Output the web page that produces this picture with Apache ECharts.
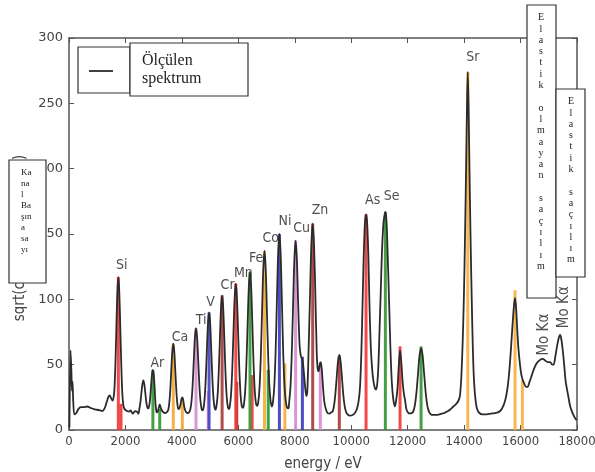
<!DOCTYPE html>
<html lang="tr">
<head>
    <meta charset="UTF-8">
    <title>Spektrum</title>
    <script src="https://cdn.jsdelivr.net/npm/echarts@6/dist/echarts.min.js"></script>
    <style>
        body { margin: 0; background: #fff; }
        #chart { width: 595px; height: 472px; }
    </style>
</head>
<body>
<div id="chart"></div>
<script type="text/javascript">
    // measured spectrum, [energy eV, sqrt(counts)]
    var spectrum = [
        [15, 2], [55, 61], [85, 45], [105, 30], [125, 37], [150, 22], [190, 12], [260, 13], [330, 16], [420, 17.5],
        [520, 17.5], [640, 18], [760, 17], [880, 16], [1000, 15.5], [1100, 15], [1190, 14.5], [1260, 16.5], [1330, 21],
        [1400, 25.5], [1440, 26.5], [1490, 24.5], [1538, 22.5], [1573, 24], [1608, 30.5], [1643, 49.5], [1678, 77.7],
        [1713, 105], [1748, 117], [1783, 105], [1818, 77.7], [1853, 49.5], [1888, 28.5], [1923, 19.4], [1958, 16.4],
        [1993, 15.5], [2060, 14.5], [2120, 14], [2180, 15], [2260, 12.5], [2340, 14.5], [2410, 14], [2460, 12.5],
        [2495, 16.4], [2530, 21.1], [2565, 28.2], [2600, 35], [2635, 38], [2670, 35], [2705, 28.2], [2740, 21.1],
        [2775, 17.5], [2810, 16.5], [2842, 18.5], [2875, 24.4], [2907, 33.4], [2940, 42.2], [2972, 46], [3005, 42],
        [3037, 31], [3065, 20], [3100, 14], [3130, 13.5], [3170, 16], [3215, 19.5], [3260, 16.5], [3320, 14],
        [3400, 13], [3460, 13.5], [3515, 15.3], [3551, 20.2], [3587, 30.2], [3623, 45.1], [3659, 59.8], [3695, 66],
        [3731, 59.8], [3767, 45.1], [3803, 30.2], [3839, 20.2], [3875, 16], [3910, 16.5], [3950, 19.5], [3985, 23.5],
        [4015, 25], [4050, 22.5], [4090, 17], [4140, 14], [4200, 13],
        [4260, 13.7], [4300, 15.9], [4340, 21.8], [4380, 34.1], [4420, 52.4], [4460, 70.4], [4500, 78], [4540, 70.4],
        [4580, 52.4], [4620, 34.1], [4660, 21.8], [4700, 16], [4730, 15],
        [4763, 16.4], [4803, 23.4], [4843, 38], [4883, 59.7], [4923, 81], [4963, 90], [5003, 81], [5043, 59.7],
        [5083, 38], [5123, 23.4], [5163, 16.5], [5195, 15.5],
        [5220, 17.5], [5261, 25.2], [5302, 42.2], [5343, 67.6], [5384, 92.4], [5425, 103], [5466, 92.4], [5507, 67.6],
        [5548, 42.2], [5589, 25.2], [5630, 17.5], [5668, 16],
        [5700, 18.5], [5742, 27.3], [5784, 45.8], [5826, 73.4], [5868, 100.5], [5910, 112], [5952, 100.5], [5994, 73.4],
        [6036, 45.8], [6078, 27.3], [6120, 18.5], [6160, 17],
        [6198, 19.7], [6241, 29.3], [6284, 49.4], [6327, 79.3], [6370, 108.5], [6413, 121], [6456, 108.5], [6499, 79.3],
        [6542, 49.4], [6585, 29.3], [6628, 20], [6665, 18.5],
        [6707, 21.3], [6751, 32.4], [6795, 55.3], [6839, 89.4], [6883, 122.8], [6927, 137], [6971, 122.8], [7015, 89.4],
        [7059, 55.3], [7103, 32.4], [7147, 21.5], [7190, 18],
        [7230, 21.9], [7275, 34.1], [7320, 59.5], [7365, 97.3], [7410, 134.3], [7455, 150], [7500, 134.3], [7545, 97.3],
        [7590, 59.5], [7635, 34.1], [7680, 22], [7730, 17], [7775, 16.5],
        [7800, 21], [7846, 32.6], [7892, 57.2], [7938, 93.8], [7984, 129.7], [8030, 145], [8076, 129.7], [8122, 95],
        [8168, 66], [8210, 57], [8250, 55], [8290, 51], [8330, 42], [8370, 32], [8410, 26],
        [8445, 30], [8492, 63.5], [8540, 103], [8587, 141.5], [8635, 158], [8682, 141.5], [8730, 103], [8777, 60],
        [8810, 47], [8845, 45], [8885, 50], [8918, 52], [8955, 47], [9000, 33], [9045, 22], [9100, 16], [9160, 13],
        [9230, 12.5],
        [9293, 13.5], [9340, 14], [9388, 18.2], [9435, 26.8], [9483, 39.6], [9530, 52.2], [9578, 57.5], [9625, 52.2],
        [9673, 39.6], [9720, 26.8], [9768, 18.2], [9815, 14], [9870, 12], [9950, 11], [10050, 11.5],
        [10130, 13], [10200, 16], [10260, 22], [10312, 33], [10360, 60], [10405, 99.5], [10445, 135], [10485, 158],
        [10525, 165], [10565, 158], [10605, 135], [10642, 100], [10690, 65], [10740, 47], [10790, 37], [10840, 32],
        [10880, 31],
        [10920, 35], [10960, 48], [11000, 74], [11045, 105], [11090, 137], [11140, 158], [11170, 163], [11210, 167],
        [11250, 160], [11295, 132], [11340, 99.5], [11390, 62], [11440, 36], [11493, 23], [11550, 18],
        [11600, 24], [11640, 32], [11685, 49], [11730, 61], [11775, 52], [11820, 37], [11865, 28], [11906, 23],
        [11960, 15.5], [12030, 13], [12083, 12.7],
        [12150, 13], [12200, 14.2], [12255, 18.8], [12310, 28.4], [12365, 42.6], [12420, 57], [12475, 62.5],
        [12530, 57], [12585, 42.6], [12640, 28.4], [12695, 18.8], [12750, 14.2], [12820, 12], [12900, 11.5],
        [13000, 11.5], [13100, 11.8], [13200, 12.5], [13300, 13], [13384, 14], [13500, 15.5], [13620, 18],
        [13720, 20], [13790, 22],
        [13850, 26], [13900, 40], [13950, 68], [13990, 100], [14030, 145], [14070, 200], [14100, 245], [14130, 274],
        [14160, 245], [14190, 200], [14230, 145], [14270, 100], [14310, 62], [14350, 38], [14400, 24], [14460, 16],
        [14540, 13], [14650, 12], [14800, 12], [14950, 12.5], [15100, 13], [15200, 13.5], [15300, 15], [15400, 19],
        [15470, 24], [15530, 31], [15580, 40], [15640, 56], [15690, 72], [15740, 88], [15780, 98], [15805, 101],
        [15840, 94], [15880, 78], [15922, 63], [15980, 50], [16040, 41], [16120, 36], [16200, 33], [16250, 33],
        [16320, 37], [16400, 42], [16480, 47], [16572, 51], [16680, 53.5], [16785, 54.5], [16880, 53], [16960, 52],
        [17050, 52], [17120, 50], [17170, 50], [17230, 56], [17300, 65], [17360, 71], [17400, 72.7], [17440, 70],
        [17490, 62], [17541, 51], [17600, 37], [17694, 25.5], [17760, 18], [17849, 12.7], [17920, 9.5], [17990, 7.5]
    ];

    // fluorescence lines: energy, height, element
    var lineEnergy  = [1748, 1843, 2972, 3215, 3695, 4015, 4500, 4935, 4963, 5425, 5945, 5910, 6490, 6413, 7060,
                       6927, 7650, 7455, 8270, 8030, 8905, 8635, 9578, 10525, 11730, 11210, 12475, 14130, 15805, 16065];
    var lineHeight  = [117, 20, 46, 16, 66, 25, 78, 30, 90, 103, 37, 112, 42, 121, 46,
                       137, 51, 150, 56, 145, 52, 158, 57, 165, 64, 167, 64, 274, 107, 38];
    var lineElement = ['Si', 'Si', 'Ar', 'Ar', 'Ca', 'Ca', 'Ti', 'Ti', 'V', 'Cr', 'Cr', 'Mn', 'Mn', 'Fe', 'Fe',
                       'Co', 'Co', 'Ni', 'Ni', 'Cu', 'Cu', 'Zn', 'Zn', 'As', 'As', 'Se', 'Se', 'Sr', 'Sr', 'Sr'];

    // peak labels, anchored in data space
    var peakNames  = ['Si', 'Ar', 'Ca', 'Ti', 'V', 'Cr', 'Mn', 'Fe', 'Co', 'Ni', 'Cu', 'Zn', 'As', 'Se', 'Sr'];
    var peakLabelE = [1865, 3130, 3935, 4680, 5020, 5620, 6180, 6630, 7145, 7655, 8245, 8895, 10760, 11435, 14305];
    var peakLabelY = [126, 51, 71, 84, 98, 111, 120, 131, 147, 160, 154, 168, 176, 178.5, 285];

    var scatterNames  = ['Mo Kα', 'Mo Kα'];
    var scatterLabelE = [16850, 17540];
    var scatterLabelY = [73, 94];

    var elementColor = {
        Si: '#ef3535', Ar: '#2f962f', Ca: '#f2a733', Ti: '#d88ad0', V: '#4343c2',
        Cr: '#a83636', Mn: '#ef3535', Fe: '#2f962f', Co: '#f4ad3a', Ni: '#3a3ab9',
        Cu: '#d88ad0', Zn: '#a83636', As: '#ef3535', Se: '#2f962f', Sr: '#f6b03e'
    };

    var sansFont = "'DejaVu Sans Condensed', 'DejaVu Sans', sans-serif";
    var plainSans = "'DejaVu Sans', sans-serif";
    var serifFont = "'Liberation Serif', 'DejaVu Serif', serif";
    var frameColor = '#555';

    var barData = [];
    for (var i = 0; i < lineEnergy.length; i++) {
        barData.push({
            value: [lineEnergy[i], lineHeight[i]],
            itemStyle: {color: elementColor[lineElement[i]], opacity: 0.9}
        });
    }

    var labelData = [];
    for (var j = 0; j < peakNames.length; j++) {
        labelData.push({name: peakNames[j], value: [peakLabelE[j], peakLabelY[j]]});
    }
    var moData = [];
    for (var k = 0; k < scatterNames.length; k++) {
        moData.push({name: scatterNames[k], value: [scatterLabelE[k], scatterLabelY[k]]});
    }

    function vertText(word) {
        return word.split('').join('\n');
    }

    var chart = echarts.init(document.getElementById('chart'));

    var axisCommon = {
        type: 'value',
        axisLine: {show: true, onZero: false, lineStyle: {color: frameColor, width: 1.5}},
        axisTick: {show: true, inside: true, length: 5, lineStyle: {color: frameColor, width: 1}},
        splitLine: {show: false}
    };

    var option = {
        animation: false,
        backgroundColor: '#fff',
        grid: {left: 69, right: 18, top: 38, bottom: 42, outerBoundsMode: 'none', containLabel: false},
        xAxis: [
            Object.assign({}, axisCommon, {
                min: 0, max: 18000, interval: 2000, position: 'bottom',
                axisLabel: {color: '#444', fontSize: 13, fontFamily: sansFont, margin: 5,
                    formatter: function (v) { return String(v); }},
                name: 'energy / eV', nameLocation: 'middle', nameGap: 27,
                nameTextStyle: {color: '#444', fontSize: 15, fontFamily: sansFont}
            }),
            Object.assign({}, axisCommon, {
                min: 0, max: 18000, interval: 2000, position: 'top',
                axisLabel: {show: false}
            })
        ],
        yAxis: [
            Object.assign({}, axisCommon, {
                min: 0, max: 300, interval: 50, position: 'left',
                axisLabel: {color: '#444', fontSize: 13, fontFamily: plainSans, margin: 6},
                name: 'sqrt(counts per channel)', nameLocation: 'middle', nameGap: 34, nameRotate: 90,
                nameTextStyle: {color: '#444', fontSize: 15, fontFamily: sansFont, padding: [0, 8, 0, 0]}
            }),
            Object.assign({}, axisCommon, {
                min: 0, max: 300, interval: 50, position: 'right',
                axisLabel: {show: false}
            })
        ],
        series: [
            {
                type: 'scatter',
                z: 1,
                symbolSize: 0,
                data: labelData,
                label: {
                    show: true, position: 'inside', formatter: '{b}',
                    color: '#222', fontSize: 14, fontFamily: sansFont
                }
            },
            {
                type: 'scatter',
                z: 1,
                symbolSize: 0,
                data: moData,
                label: {
                    show: true, position: 'inside', formatter: '{b}', rotate: 90,
                    align: 'center', verticalAlign: 'middle',
                    color: '#222', fontSize: 15, fontFamily: sansFont
                }
            },
            {
                type: 'bar',
                z: 2,
                barWidth: 3,
                data: barData
            },
            {
                type: 'line',
                z: 3,
                data: spectrum,
                showSymbol: false,
                smooth: 0.3,
                lineStyle: {color: '#2b2b2b', width: 1.8}
            }
        ],
        graphic: [
            // legend boxes
            {type: 'rect', z: 100, shape: {x: 78, y: 47, width: 52, height: 46},
                style: {fill: '#fff', stroke: '#333', lineWidth: 1.2}},
            {type: 'line', z: 101, shape: {x1: 89, y1: 71, x2: 113, y2: 71},
                style: {stroke: '#2b2b2b', lineWidth: 1.8}},
            {type: 'rect', z: 100, shape: {x: 130, y: 43, width: 118, height: 53},
                style: {fill: '#fff', stroke: '#333', lineWidth: 1.2}},
            {type: 'text', z: 101, x: 142, y: 52,
                style: {text: 'Ölçülen\nspektrum', fill: '#222', font: '16px ' + serifFont, lineHeight: 18}},
            // y axis caption box
            {type: 'rect', z: 100, shape: {x: 9, y: 160, width: 37, height: 123},
                style: {fill: '#fff', stroke: '#333', lineWidth: 1.2}},
            {type: 'text', z: 101, x: 21, y: 167,
                style: {text: 'Ka\nna\nl\nBa\nşın\na\nsa\nyı', fill: '#222', font: '9px ' + serifFont, lineHeight: 11}},
            // scattering boxes
            {type: 'rect', z: 100, shape: {x: 527, y: 5, width: 29, height: 293},
                style: {fill: '#fff', stroke: '#333', lineWidth: 1.2}},
            {type: 'text', z: 101, x: 541, y: 12,
                style: {text: vertText('Elastik') + '\n\n' + vertText('olmayan') + '\n\n' + vertText('saçılım'),
                    fill: '#222', font: '10px ' + serifFont, lineHeight: 11.3, align: 'center'}},
            {type: 'rect', z: 100, shape: {x: 556, y: 89, width: 29, height: 188},
                style: {fill: '#fff', stroke: '#333', lineWidth: 1.2}},
            {type: 'text', z: 101, x: 571, y: 96,
                style: {text: vertText('Elastik') + '\n\n' + vertText('saçılım'),
                    fill: '#222', font: '10px ' + serifFont, lineHeight: 11.3, align: 'center'}}
        ]
    };

    chart.setOption(option);
</script>
</body>
</html>
